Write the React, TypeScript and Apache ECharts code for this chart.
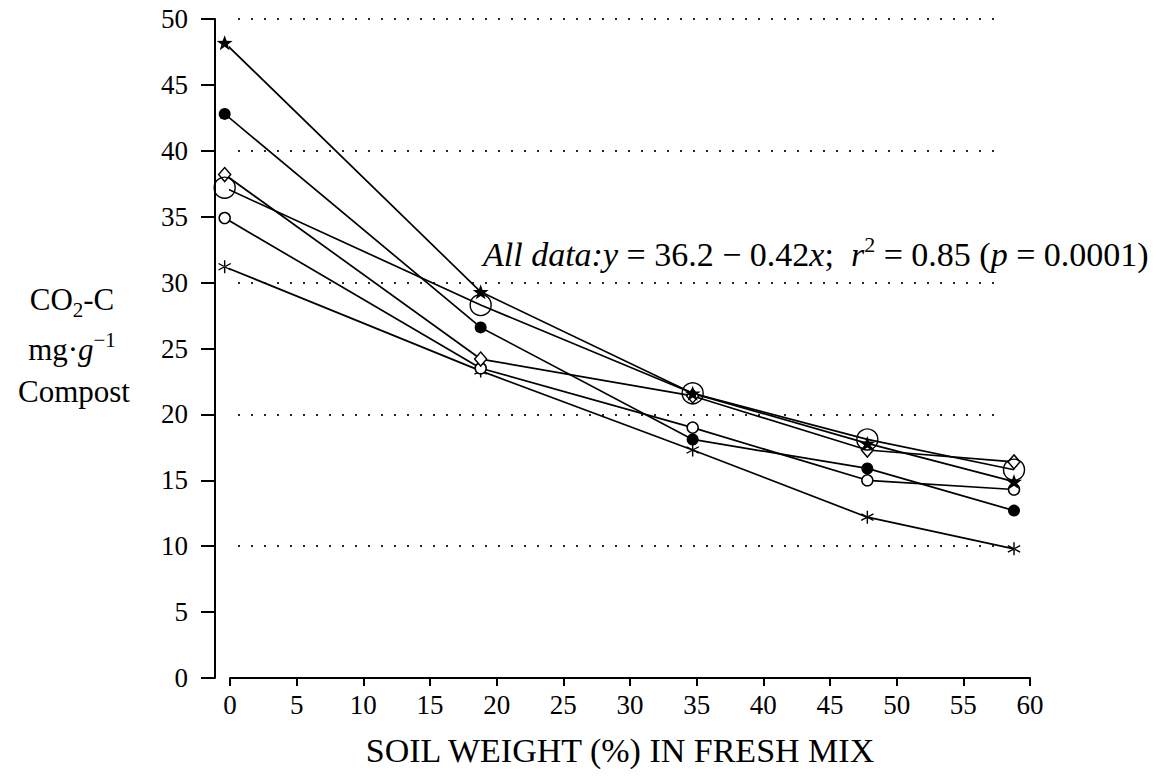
import React, { useEffect, useRef } from "react";
import * as echarts from "echarts";

const xValues = [-0.4, 18.8, 34.7, 47.8, 58.8];
const starSeries = [48.2, 29.3, 21.6, 17.8, 14.9];
const filledCircleSeries = [42.8, 26.6, 18.1, 15.9, 12.7];
const diamondSeries = [38.2, 24.2, 21.4, 17.3, 16.4];
const bigCircleSeries = [37.2, 28.3, 21.6, 18.1, 15.8];
const smallCircleSeries = [34.9, 23.5, 19.0, 15.0, 14.3];
const asteriskSeries = [31.2, 23.3, 17.3, 12.2, 9.8];
const dottedLevels = [10, 20, 30, 40, 50];
const dottedFrom = 0.6;
const dottedTo = 58.0;

const FONT = "Liberation Serif";

const STAR_PATH =
  "path://M10 0 L12.35 6.76 L19.51 6.91 L13.8 11.24 L15.88 18.09 L10 14 L4.12 18.09 L6.2 11.24 L0.49 6.91 L7.65 6.76 Z";
const ASTERISK_PATH =
  "path://M9 0 L11 0 L11 20 L9 20 Z M18.1 15.9 L19.1 14.1 L1.9 4.1 L0.9 5.9 Z M1.9 15.9 L0.9 14.1 L18.1 4.1 L19.1 5.9 Z";

const pts = (ys: number[]) => xValues.map((x, i) => [x, ys[i]]);

export default function App() {
  const ref = useRef<HTMLDivElement>(null);
  useEffect(() => {
    if (!ref.current) return;
    const chart = echarts.init(ref.current, null, { renderer: "svg" });
    const lineStyle = { color: "#000", width: 1.7 };
    const base = {
      type: "line",
      clip: false,
      lineStyle,
      emphasis: { disabled: true },
      silent: true,
    };
    const option: any = {
      animation: false,
      backgroundColor: "#fff",
      grid: { left: 230, right: 140, top: 19, bottom: 102, containLabel: false },
      xAxis: {
        type: "value",
        min: 0,
        max: 60,
        interval: 5,
        axisLine: { show: true, onZero: false, lineStyle: { color: "#000", width: 2 } },
        axisTick: { show: true, length: 8, lineStyle: { color: "#000", width: 2 } },
        axisLabel: { color: "#000", fontFamily: FONT, fontSize: 27, margin: 13 },
        splitLine: { show: false },
        name: "SOIL WEIGHT (%) IN FRESH MIX",
        nameLocation: "middle",
        nameGap: 55,
        nameTextStyle: {
          color: "#000",
          fontFamily: FONT,
          fontSize: 34,
          padding: [0, 20, 0, 0],
        },
      },
      yAxis: {
        type: "value",
        min: 0,
        max: 50,
        interval: 5,
        offset: 15,
        axisLine: { show: true, onZero: false, lineStyle: { color: "#000", width: 2 } },
        axisTick: { show: true, length: 14, lineStyle: { color: "#000", width: 2 } },
        axisLabel: { color: "#000", fontFamily: FONT, fontSize: 27, margin: 27 },
        splitLine: { show: false },
      },
      graphic: [
        {
          type: "text",
          x: 483,
          y: 252,
          style: {
            text:
              "{i|All data:}{i|y}{n| = 36.2 − 0.42}{i|x}{n|;  }{i|r}{s|2}{n| = 0.85 (}{i|p}{n| = 0.0001)}",
            verticalAlign: "middle",
            fill: "#000",
            rich: {
              i: { fontFamily: FONT, fontStyle: "italic", fontSize: 34, lineHeight: 38, verticalAlign: "bottom" },
              n: { fontFamily: FONT, fontSize: 34, lineHeight: 38, verticalAlign: "bottom" },
              s: { fontFamily: FONT, fontSize: 22, lineHeight: 38, verticalAlign: "top" },
            },
          },
        },
        {
          type: "text",
          x: 72,
          y: 302,
          style: {
            text: "{n|CO}{s|2}{n|-C}",
            align: "center",
            verticalAlign: "middle",
            fill: "#000",
            rich: {
              n: { fontFamily: FONT, fontSize: 31, lineHeight: 36, verticalAlign: "top" },
              s: { fontFamily: FONT, fontSize: 21, lineHeight: 36, verticalAlign: "bottom" },
            },
          },
        },
        {
          type: "text",
          x: 72,
          y: 347,
          style: {
            text: "{n|mg·}{i|g}{p|−1}",
            align: "center",
            verticalAlign: "middle",
            fill: "#000",
            rich: {
              n: { fontFamily: FONT, fontSize: 31, lineHeight: 36, verticalAlign: "bottom" },
              i: { fontFamily: FONT, fontStyle: "italic", fontSize: 31, lineHeight: 36, verticalAlign: "bottom" },
              p: { fontFamily: FONT, fontSize: 21, lineHeight: 36, verticalAlign: "top" },
            },
          },
        },
        {
          type: "text",
          x: 74,
          y: 391,
          style: {
            text: "Compost",
            align: "center",
            verticalAlign: "middle",
            fill: "#000",
            fontFamily: FONT,
            fontSize: 31,
          },
        },
      ],
      series: [
        {
          type: "line",
          data: [],
          silent: true,
          markLine: {
            silent: true,
            symbol: "none",
            label: { show: false },
            lineStyle: { color: "#000", width: 2, type: [2, 11], opacity: 0.85 },
            data: dottedLevels.map((v) => [
              { coord: [dottedFrom, v] },
              { coord: [dottedTo, v] },
            ]),
          },
        },
        {
          ...base,
          name: "asterisk",
          data: pts(asteriskSeries),
          symbol: ASTERISK_PATH,
          symbolSize: 13,
          itemStyle: { color: "#000" },
        },
        {
          ...base,
          name: "small circle",
          data: pts(smallCircleSeries),
          symbol: "circle",
          symbolSize: 11,
          itemStyle: { color: "#fff", borderColor: "#000", borderWidth: 1.5 },
        },
        {
          ...base,
          name: "diamond",
          data: pts(diamondSeries),
          symbol: "diamond",
          symbolSize: [12, 14],
          itemStyle: { color: "#fff", borderColor: "#000", borderWidth: 1.5 },
        },
        {
          ...base,
          name: "filled circle",
          data: pts(filledCircleSeries),
          symbol: "circle",
          symbolSize: 12,
          itemStyle: { color: "#000", borderColor: "#000", borderWidth: 0 },
        },
        {
          ...base,
          name: "big circle",
          data: pts(bigCircleSeries),
          symbol: "circle",
          symbolSize: 21,
          itemStyle: { color: "transparent", borderColor: "#000", borderWidth: 1.4 },
        },
        {
          ...base,
          name: "star",
          data: pts(starSeries),
          symbol: STAR_PATH,
          symbolSize: [16, 15],
          itemStyle: { color: "#000" },
        },
      ],
    };
    chart.setOption(option);
    return () => chart.dispose();
  }, []);
  return <div ref={ref} style={{ width: 1170, height: 780, margin: -8 }} />;
}
